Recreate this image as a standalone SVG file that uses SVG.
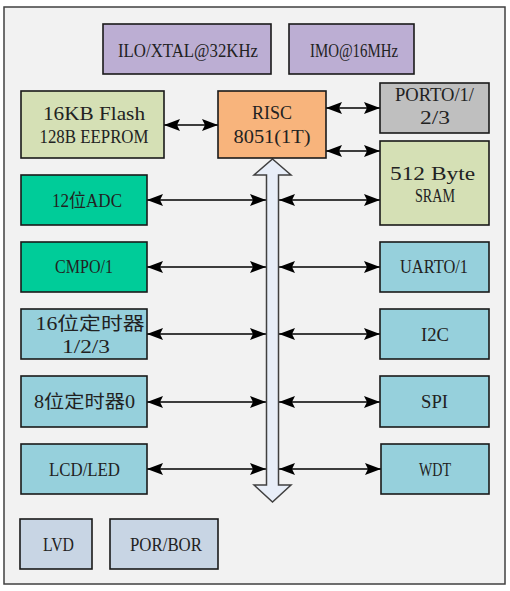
<svg xmlns="http://www.w3.org/2000/svg" width="510" height="591" viewBox="0 0 510 591">
<defs>
<style>
.box{stroke:#1a1a1a;stroke-width:1.6}
.clk{fill:#bcaed3}
.grn{fill:#d5e0b5}
.cpu{fill:#f8b47c}
.prt{fill:#bfbfbf}
.ana{fill:#00cc99}
.per{fill:#96d0dc}
.pwr{fill:#c8d5e4}
.t{font-family:"Liberation Serif","Noto Sans CJK SC",serif;font-size:18px;fill:#222;text-anchor:middle}
.c{stroke:#000;stroke-width:1.5;fill:none;marker-start:url(#ah);marker-end:url(#ah)}
</style>
<marker id="ah" markerUnits="userSpaceOnUse" markerWidth="16" markerHeight="12" refX="16" refY="6" orient="auto-start-reverse" viewBox="0 0 16 12">
<path d="M0,0 L16,6 L0,12 L3,6 z" fill="#000"/>
</marker>
</defs>
<rect x="4" y="7" width="501" height="577" fill="#f2f2f2" stroke="#404040" stroke-width="1.5"/>

<g id="connectors">
<path class="c" d="M164,125 H218"/>
<path class="c" d="M326,108 H380"/>
<path class="c" d="M326,151 H380"/>
<path class="c" d="M147,200 H266"/>
<path class="c" d="M279,200 H380"/>
<path class="c" d="M147,267 H266"/>
<path class="c" d="M279,267 H380"/>
<path class="c" d="M147,334 H266"/>
<path class="c" d="M279,334 H380"/>
<path class="c" d="M147,402 H266"/>
<path class="c" d="M279,402 H380"/>
<path class="c" d="M147,469 H266"/>
<path class="c" d="M279,469 H381"/>
</g>

<g id="bus">
<path d="M272.5,159 L291,175 L278.5,175 L278.5,485 L291,485 L272.5,502 L254,485 L266.5,485 L266.5,175 L254,175 z" fill="#e8eef8" stroke="#404040" stroke-width="1.5" stroke-linejoin="miter"/>
</g>

<g id="ilo"><rect class="box clk" x="103" y="24" width="168" height="50"/><text class="t" x="188" y="57" textLength="140" lengthAdjust="spacingAndGlyphs">ILO/XTAL@32KHz</text></g>
<g id="imo"><rect class="box clk" x="289" y="24" width="125" height="50"/><text class="t" x="354" y="57" textLength="88" lengthAdjust="spacingAndGlyphs">IMO@16MHz</text></g>

<g id="flash"><rect class="box grn" x="21" y="91" width="143" height="67"/>
<text class="t" x="94" y="120" textLength="102" lengthAdjust="spacingAndGlyphs">16KB Flash</text>
<text class="t" x="94" y="143" textLength="109" lengthAdjust="spacingAndGlyphs">128B EEPROM</text></g>

<g id="risc"><rect class="box cpu" x="218" y="91" width="108" height="67"/>
<text class="t" x="272" y="119" textLength="40" lengthAdjust="spacingAndGlyphs">RISC</text>
<text class="t" x="272" y="143" textLength="77" lengthAdjust="spacingAndGlyphs">8051(1T)</text></g>

<g id="port"><rect class="box prt" x="380" y="83" width="109" height="50"/>
<text class="t" x="434.5" y="101" textLength="79" lengthAdjust="spacingAndGlyphs">PORTO/1/</text>
<text class="t" x="435" y="124" textLength="30" lengthAdjust="spacingAndGlyphs">2/3</text></g>

<g id="sram"><rect class="box grn" x="380" y="141" width="109" height="84"/>
<text class="t" x="432.5" y="180" textLength="85" lengthAdjust="spacingAndGlyphs">512 Byte</text>
<text class="t" x="435" y="202" textLength="40" lengthAdjust="spacingAndGlyphs">SRAM</text></g>

<g id="adc"><rect class="box ana" x="21" y="175" width="126" height="50"/><text class="t" x="87" y="207" textLength="70" lengthAdjust="spacingAndGlyphs">12位ADC</text></g>
<g id="cmp"><rect class="box ana" x="21" y="242" width="126" height="50"/><text class="t" x="84" y="273" textLength="58" lengthAdjust="spacingAndGlyphs">CMPO/1</text></g>
<g id="uart"><rect class="box per" x="380" y="242" width="109" height="50"/><text class="t" x="434" y="273" textLength="68" lengthAdjust="spacingAndGlyphs">UARTO/1</text></g>

<g id="timer16"><rect class="box per" x="21" y="309" width="126" height="50"/>
<text class="t" x="90" y="330" textLength="109" lengthAdjust="spacingAndGlyphs">16位定时器</text>
<text class="t" x="86" y="353" textLength="48" lengthAdjust="spacingAndGlyphs">1/2/3</text></g>
<g id="i2c"><rect class="box per" x="380" y="309" width="109" height="50"/><text class="t" x="435" y="341" textLength="28" lengthAdjust="spacingAndGlyphs">I2C</text></g>

<g id="timer8"><rect class="box per" x="21" y="376" width="126" height="51"/><text class="t" x="84.5" y="408" textLength="101" lengthAdjust="spacingAndGlyphs">8位定时器0</text></g>
<g id="spi"><rect class="box per" x="380" y="376" width="109" height="51"/><text class="t" x="434.5" y="408" textLength="27" lengthAdjust="spacingAndGlyphs">SPI</text></g>

<g id="lcd"><rect class="box per" x="21" y="444" width="126" height="50"/><text class="t" x="84.5" y="476" textLength="71" lengthAdjust="spacingAndGlyphs">LCD/LED</text></g>
<g id="wdt"><rect class="box per" x="381" y="444" width="108" height="50"/><text class="t" x="435" y="476" textLength="32" lengthAdjust="spacingAndGlyphs">WDT</text></g>

<g id="lvd"><rect class="box pwr" x="20" y="519" width="72" height="50"/><text class="t" x="58.5" y="551" textLength="31" lengthAdjust="spacingAndGlyphs">LVD</text></g>
<g id="por"><rect class="box pwr" x="110" y="519" width="108" height="50"/><text class="t" x="166" y="551" textLength="72" lengthAdjust="spacingAndGlyphs">POR/BOR</text></g>
</svg>
